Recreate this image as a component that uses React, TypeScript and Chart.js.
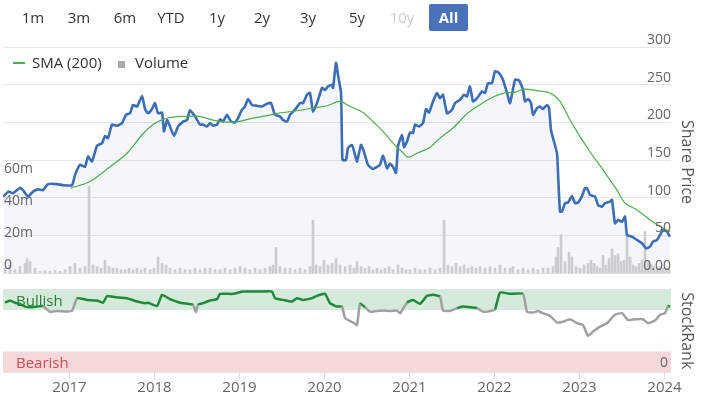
import React, { useEffect, useRef } from 'react';
import { Chart, registerables } from 'chart.js';
Chart.register(...registerables);

// [decimal year, share price]
const priceData: [number, number][] = [
  [2016.224, 101.5], [2016.283, 108], [2016.338, 106], [2016.42, 113], [2016.455, 110], [2016.514, 101.5],
  [2016.573, 108], [2016.632, 111], [2016.691, 110], [2016.75, 118], [2016.856, 118], [2016.926, 116.6],
  [2017.032, 116.6], [2017.067, 130], [2017.126, 143.6], [2017.185, 141], [2017.22, 154.7], [2017.267, 148],
  [2017.326, 169], [2017.385, 172.5], [2017.42, 182], [2017.455, 179], [2017.502, 197], [2017.561, 195.5],
  [2017.62, 199], [2017.667, 210], [2017.714, 212], [2017.75, 223], [2017.797, 221], [2017.856, 235],
  [2017.891, 217.7], [2017.926, 212], [2017.973, 217.7], [2018.008, 225.6], [2018.044, 212], [2018.091, 213],
  [2018.114, 188], [2018.15, 203], [2018.185, 194.5], [2018.232, 182], [2018.279, 194.5], [2018.338, 201],
  [2018.385, 203], [2018.42, 216], [2018.479, 208], [2018.538, 197], [2018.573, 197], [2018.62, 194.5],
  [2018.655, 199], [2018.691, 195.5], [2018.738, 197], [2018.773, 204], [2018.808, 201], [2018.855, 210],
  [2018.903, 201], [2018.95, 200], [2018.985, 205.7], [2019.032, 216.8], [2019.067, 221], [2019.103, 231],
  [2019.15, 223], [2019.208, 222], [2019.267, 221], [2019.326, 224.7], [2019.373, 225.6], [2019.42, 210],
  [2019.479, 208], [2019.514, 203], [2019.561, 201], [2019.597, 210], [2019.656, 216.8], [2019.714, 225.6],
  [2019.75, 225.6], [2019.797, 236.7], [2019.832, 239], [2019.867, 214.5], [2019.914, 225.6], [2019.973, 245.6],
  [2020.009, 243], [2020.044, 247.7], [2020.091, 250], [2020.103, 245.6], [2020.138, 279], [2020.161, 263],
  [2020.197, 239], [2020.214, 150], [2020.256, 150], [2020.279, 166], [2020.326, 170], [2020.361, 157],
  [2020.385, 148], [2020.432, 170], [2020.467, 161], [2020.514, 143.6], [2020.573, 138], [2020.62, 141],
  [2020.655, 143.6], [2020.691, 155.6], [2020.738, 139], [2020.773, 145], [2020.808, 141], [2020.844, 133],
  [2020.867, 168], [2020.914, 183.5], [2020.938, 167], [2020.973, 174.6], [2021.008, 186.6], [2021.044, 185.8],
  [2021.067, 197], [2021.114, 194.5], [2021.161, 199], [2021.197, 217.7], [2021.232, 213], [2021.279, 227.8],
  [2021.326, 239], [2021.361, 232], [2021.397, 236.7], [2021.444, 212], [2021.503, 216.8], [2021.538, 225.6],
  [2021.597, 230], [2021.644, 236.7], [2021.679, 234.4], [2021.714, 247.7], [2021.75, 227.8], [2021.797, 232],
  [2021.856, 241], [2021.891, 239], [2021.926, 252], [2021.973, 252], [2022.008, 267.7], [2022.055, 265.6],
  [2022.102, 256.6], [2022.15, 239], [2022.185, 225.6], [2022.244, 256.6], [2022.291, 255.7], [2022.338, 243.4],
  [2022.361, 227.8], [2022.397, 231], [2022.432, 225.6], [2022.456, 210], [2022.503, 219], [2022.538, 221],
  [2022.573, 217.7], [2022.62, 223], [2022.644, 219], [2022.667, 190], [2022.691, 179], [2022.738, 159],
  [2022.75, 132.6], [2022.773, 81.5], [2022.797, 81.5], [2022.832, 92.7], [2022.867, 93.5], [2022.914, 102],
  [2022.95, 92.7], [2022.985, 93.5], [2023.032, 102], [2023.067, 112.6], [2023.091, 112.6], [2023.126, 103.7],
  [2023.185, 101.5], [2023.22, 90.4], [2023.267, 88], [2023.302, 92.7], [2023.361, 94.8], [2023.385, 97],
  [2023.42, 66], [2023.455, 70.5], [2023.502, 68], [2023.538, 74.9], [2023.561, 50.5], [2023.62, 48.3],
  [2023.679, 43.9], [2023.738, 39.5], [2023.785, 32.8], [2023.832, 35], [2023.867, 41.6], [2023.914, 43.9],
  [2023.95, 50.5], [2023.985, 57], [2024.032, 55], [2024.067, 48.3],
];

// [decimal year, 200-day simple moving average]
const smaData: [number, number][] = [
  [2017.017, 112.6], [2017.244, 121.4], [2017.479, 141], [2017.679, 159], [2017.856, 183.5], [2017.985, 197],
  [2018.103, 204], [2018.22, 207], [2018.42, 208], [2018.538, 208], [2018.691, 203], [2018.855, 200.4],
  [2018.985, 201], [2019.161, 205.7], [2019.326, 208.8], [2019.444, 212], [2019.632, 214.5], [2019.867, 219],
  [2020.032, 222], [2020.185, 227.8], [2020.303, 221], [2020.456, 213], [2020.573, 201], [2020.691, 188],
  [2020.808, 172.5], [2020.914, 161], [2020.985, 153.8], [2021.091, 159], [2021.244, 167], [2021.361, 179],
  [2021.514, 192.4], [2021.679, 211.4], [2021.832, 223.4], [2021.985, 233.6], [2022.126, 239], [2022.244, 240],
  [2022.361, 244], [2022.503, 242], [2022.655, 239], [2022.773, 227.8], [2022.891, 203], [2023.009, 181],
  [2023.126, 161], [2023.279, 137], [2023.444, 110], [2023.538, 92.7], [2023.679, 83.8], [2023.832, 70.5],
  [2023.95, 61.6], [2024.067, 55],
];

// [decimal year, volume in millions]
const volumeData: [number, number][] = [
  [2016.244, 3], [2016.303, 5], [2016.361, 2], [2016.42, 4], [2016.479, 6], [2016.503, 9], [2016.538, 7],
  [2016.597, 3], [2016.656, 1], [2016.714, 1.5], [2016.773, 1], [2016.832, 1.5], [2016.891, 1], [2016.95, 2],
  [2017.009, 4], [2017.067, 6], [2017.126, 3], [2017.185, 4], [2017.232, 54], [2017.279, 5], [2017.326, 4],
  [2017.373, 3], [2017.42, 8], [2017.467, 4], [2017.514, 3], [2017.561, 3], [2017.609, 2], [2017.656, 2],
  [2017.703, 3], [2017.75, 2], [2017.797, 3], [2017.844, 2], [2017.891, 3], [2017.95, 2], [2017.997, 3],
  [2018.044, 10], [2018.091, 6], [2018.138, 5], [2018.185, 3], [2018.244, 2], [2018.303, 3], [2018.361, 2],
  [2018.42, 2], [2018.479, 3], [2018.538, 2], [2018.597, 3], [2018.656, 3], [2018.714, 2], [2018.773, 2],
  [2018.832, 3], [2018.891, 2], [2018.95, 3], [2019.009, 4], [2019.067, 3], [2019.126, 2], [2019.185, 3],
  [2019.244, 2], [2019.303, 3], [2019.361, 4], [2019.397, 5], [2019.432, 16], [2019.479, 4], [2019.538, 3],
  [2019.597, 3], [2019.656, 2], [2019.714, 3], [2019.773, 2], [2019.832, 4], [2019.867, 33], [2019.903, 5],
  [2019.95, 4], [2019.997, 8], [2020.044, 5], [2020.091, 6], [2020.138, 9], [2020.185, 5], [2020.244, 4],
  [2020.303, 5], [2020.35, 3], [2020.385, 7], [2020.432, 4], [2020.479, 3], [2020.526, 4], [2020.573, 2],
  [2020.62, 3], [2020.667, 2], [2020.714, 3], [2020.762, 4], [2020.809, 2], [2020.867, 5], [2020.914, 3],
  [2020.962, 2], [2021.009, 2], [2021.067, 3], [2021.126, 2], [2021.185, 2], [2021.244, 3], [2021.303, 2],
  [2021.361, 3], [2021.409, 33], [2021.456, 5], [2021.503, 4], [2021.55, 6], [2021.597, 4], [2021.644, 5],
  [2021.691, 3], [2021.738, 4], [2021.785, 3], [2021.832, 4], [2021.891, 3], [2021.95, 4], [2022.009, 3],
  [2022.067, 5], [2022.126, 3], [2022.185, 3], [2022.22, 4], [2022.279, 2], [2022.338, 3], [2022.397, 2],
  [2022.456, 3], [2022.514, 2], [2022.573, 3], [2022.632, 3], [2022.691, 4], [2022.726, 10], [2022.75, 16],
  [2022.785, 24], [2022.832, 7], [2022.879, 13], [2022.914, 10], [2022.962, 4], [2023.009, 3], [2023.056, 5],
  [2023.103, 6], [2023.138, 8], [2023.173, 6], [2023.209, 4], [2023.244, 3], [2023.279, 11], [2023.314, 5],
  [2023.35, 9], [2023.385, 15], [2023.42, 11], [2023.456, 12], [2023.491, 7], [2023.526, 8], [2023.562, 23],
  [2023.597, 10], [2023.632, 5], [2023.667, 4], [2023.703, 6], [2023.738, 8], [2023.773, 26], [2023.809, 7],
  [2023.844, 5], [2023.879, 4], [2023.914, 3], [2023.95, 4], [2023.985, 3], [2024.02, 3], [2024.056, 2],
];

// [decimal year, StockRank 0-100]
const rankData: [number, number][] = [
  [2016.244, 84], [2016.303, 86.6], [2016.361, 84], [2016.42, 82.6], [2016.479, 79.3], [2016.538, 78.6],
  [2016.62, 79.3], [2016.691, 80], [2016.773, 73], [2016.856, 74], [2016.926, 73.5], [2017.032, 74],
  [2017.091, 89.5], [2017.209, 87.4], [2017.326, 86.6], [2017.397, 84], [2017.444, 92], [2017.538, 90.7],
  [2017.679, 89.5], [2017.797, 85.4], [2017.891, 83.4], [2017.926, 84], [2018.032, 80], [2018.091, 93.5],
  [2018.185, 88.3], [2018.303, 84], [2018.397, 82.6], [2018.456, 81.4], [2018.491, 72.5], [2018.514, 81.4],
  [2018.573, 83.4], [2018.656, 86.6], [2018.738, 88.3], [2018.773, 94.7], [2018.926, 94.7], [2019.044, 97.5],
  [2019.244, 97.5], [2019.385, 97.5], [2019.42, 89.5], [2019.514, 87.4], [2019.62, 85.4], [2019.679, 89.5],
  [2019.75, 87.4], [2019.856, 89.5], [2019.914, 92.3], [2020.009, 94.7], [2020.067, 83.4], [2020.15, 79.3],
  [2020.209, 79.3], [2020.244, 65.3], [2020.338, 60], [2020.385, 57], [2020.42, 82.6], [2020.479, 78.6],
  [2020.538, 73], [2020.62, 74], [2020.691, 74.5], [2020.773, 74], [2020.856, 74.5], [2020.891, 71.3],
  [2020.973, 84], [2021.044, 87.4], [2021.126, 82.6], [2021.209, 92.3], [2021.279, 93.5], [2021.361, 91.4],
  [2021.397, 74.5], [2021.479, 74], [2021.562, 77.4], [2021.632, 79.3], [2021.715, 78.6], [2021.797, 77.4],
  [2021.868, 73], [2021.95, 74], [2022.009, 76], [2022.067, 96.2], [2022.185, 94.7], [2022.338, 94.7],
  [2022.385, 73], [2022.456, 72], [2022.514, 74], [2022.573, 71.3], [2022.656, 68], [2022.738, 60],
  [2022.809, 61], [2022.891, 64], [2022.973, 59.2], [2023.044, 57], [2023.103, 43.9], [2023.162, 49],
  [2023.244, 55], [2023.326, 59.2], [2023.42, 69.3], [2023.503, 71.3], [2023.573, 63], [2023.656, 64],
  [2023.75, 64], [2023.809, 59.2], [2023.891, 62.4], [2023.95, 69.3], [2024.009, 71.3], [2024.044, 80],
  [2024.067, 78.6],
];

const yearTicks = [2017, 2018, 2019, 2020, 2021, 2022, 2023, 2024];
const priceTicks = [0, 50, 100, 150, 200, 250, 300];
const volumeTicks = [0, 20, 40, 60];
const rangeButtons = ['1m', '3m', '6m', 'YTD', '1y', '2y', '3y', '5y', '10y', 'All'];
const buttonCenters = [33, 79, 125, 171, 217, 262, 308, 357, 402, 448];

const GREEN = '#1f8a3c';
const GRAY = '#a0a0a0';
const FONT = '"Open Sans", sans-serif';

const overlayPlugin = {
  id: 'overlay',
  beforeDatasetsDraw(chart: any) {
    const { ctx, chartArea } = chart;
    const r = chart.scales.yRank;
    const w = chartArea.right - chartArea.left;
    ctx.save();
    const b1 = r.getPixelForValue(100);
    const b2 = r.getPixelForValue(75);
    ctx.fillStyle = '#d5eadb';
    ctx.fillRect(chartArea.left, b1, w, b2 - b1);
    const r1 = r.getPixelForValue(25);
    const r2 = r.getPixelForValue(0);
    ctx.fillStyle = '#f6d7da';
    ctx.fillRect(chartArea.left, r1, w, r2 - r1);
    ctx.font = '15px ' + FONT;
    ctx.textBaseline = 'middle';
    ctx.textAlign = 'left';
    ctx.fillStyle = '#2b7d3c';
    ctx.fillText('Bullish', 16, (b1 + b2) / 2 + 2);
    ctx.fillStyle = '#d24a57';
    ctx.fillText('Bearish', 16, (r1 + r2) / 2 + 2);
    ctx.restore();
  },
  afterDraw(chart: any) {
    const { ctx, chartArea } = chart;
    const x = chart.scales.x;
    const p = chart.scales.yPrice;
    const v = chart.scales.yVol;
    const r = chart.scales.yRank;
    ctx.save();
    ctx.textBaseline = 'middle';
    ctx.font = '14px ' + FONT;
    ctx.fillStyle = '#666';
    ctx.textAlign = 'right';
    priceTicks.forEach((t) => {
      ctx.fillText(t === 0 ? '0.00' : String(t), chartArea.right, p.getPixelForValue(t) - 7);
    });
    ctx.fillText('0', chartArea.right - 3, r.getPixelForValue(0) - 9);
    ctx.textAlign = 'left';
    volumeTicks.forEach((t) => {
      ctx.fillText(t === 0 ? '0' : t + 'm', 4, v.getPixelForValue(t) - 8);
    });
    // x ticks
    ctx.strokeStyle = '#d8d8d8';
    ctx.lineWidth = 1;
    ctx.font = '15px ' + FONT;
    ctx.textAlign = 'center';
    yearTicks.forEach((yr) => {
      const px = Math.round(x.getPixelForValue(yr)) + 0.5;
      ctx.beginPath();
      ctx.moveTo(px, chartArea.bottom);
      ctx.lineTo(px, chartArea.bottom + 7);
      ctx.stroke();
      ctx.fillText(String(yr), px, 388);
    });
    // titles
    ctx.fillStyle = '#555';
    ctx.font = '16px ' + FONT;
    const titles: [string, number, number][] = [
      ['Share Price', 687, (p.getPixelForValue(300) + p.getPixelForValue(0)) / 2 + 2],
      ['StockRank', 687, (r.getPixelForValue(100) + r.getPixelForValue(0)) / 2],
    ];
    titles.forEach(([t, tx, ty]) => {
      ctx.save();
      ctx.translate(tx, ty);
      ctx.rotate(Math.PI / 2);
      ctx.textAlign = 'center';
      ctx.fillText(t, 0, 0);
      ctx.restore();
    });
    ctx.restore();
  },
};

export default function App() {
  const ref = useRef<HTMLCanvasElement>(null);
  useEffect(() => {
    const toPts = (d: [number, number][]) => d.map(([a, b]) => ({ x: a, y: b }));
    const chart = new Chart(ref.current as HTMLCanvasElement, {
      type: 'line',
      data: {
        datasets: [
          {
            label: 'SMA (200)',
            data: toPts(smaData),
            yAxisID: 'yPrice',
            borderColor: '#4cae4c',
            borderWidth: 1.2,
            pointRadius: 0,
            fill: false,
            tension: 0.3,
          },
          {
            label: 'Share Price',
            data: toPts(priceData),
            yAxisID: 'yPrice',
            borderColor: '#3d6db5',
            backgroundColor: 'rgba(70,100,190,0.055)',
            borderWidth: 2.6,
            pointRadius: 0,
            fill: { value: 0 },
            tension: 0.15,
          },
          {
            label: 'StockRank',
            data: toPts(rankData),
            yAxisID: 'yRank',
            borderColor: GRAY,
            borderWidth: 2.5,
            pointRadius: 0,
            fill: false,
            tension: 0.15,
            segment: {
              borderColor: (c: any) => (c.p0.parsed.y >= 75 && c.p1.parsed.y >= 75 ? GREEN : GRAY),
            },
          },
          {
            type: 'bar',
            label: 'Volume',
            data: toPts(volumeData),
            yAxisID: 'yVol',
            backgroundColor: '#cbcbd0',
            barThickness: 2,
          } as any,
        ],
      },
      options: {
        responsive: false,
        devicePixelRatio: 1,
        animation: false,
        layout: { padding: { left: 3, right: 31, top: 47, bottom: 23 } },
        plugins: {
          legend: { display: false },
          tooltip: { enabled: false },
          filler: { drawTime: 'beforeDatasetsDraw' } as any,
        },
        scales: {
          x: {
            type: 'linear',
            min: 2016.22,
            max: 2024.079,
            offset: false,
            display: false,
          },
          yPrice: {
            type: 'linear',
            position: 'right',
            min: -131.4,
            max: 300,
            bounds: 'data',
            afterBuildTicks: (s: any) => {
              s.ticks = priceTicks.map((t) => ({ value: t }));
            },
            grid: { color: '#e6e6e6', drawTicks: false, lineWidth: 1 },
            border: { display: false },
            ticks: { display: false },
          },
          yVol: {
            type: 'linear',
            position: 'left',
            min: -61.9,
            max: 141.25,
            display: false,
          },
          yRank: {
            type: 'linear',
            position: 'right',
            min: 0,
            max: 393.9,
            bounds: 'data',
            afterBuildTicks: (s: any) => {
              s.ticks = [0, 100].map((t) => ({ value: t }));
            },
            grid: { color: '#e3e3e3', drawTicks: false },
            border: { display: false },
            ticks: { display: false },
          },
        } as any,
      },
      plugins: [overlayPlugin as any],
    });
    return () => chart.destroy();
  }, []);

  return (
    <div
      style={{
        position: 'absolute',
        left: 0,
        top: 0,
        width: 702,
        height: 395,
        background: '#fff',
        overflow: 'hidden',
        fontFamily: FONT,
      }}
    >
      <canvas ref={ref} width={702} height={395} style={{ position: 'absolute', left: 0, top: 0 }} />
      {rangeButtons.map((b, i) => {
        const active = b === 'All';
        return (
          <div
            key={b}
            style={{
              position: 'absolute',
              left: active ? 429 : buttonCenters[i] - 22,
              top: 4,
              width: active ? 39 : 44,
              height: 27,
              lineHeight: '27px',
              textAlign: 'center',
              fontSize: 15,
              borderRadius: 2,
              background: active ? '#4a72b9' : 'transparent',
              color: active ? '#fff' : b === '10y' ? '#cccccc' : '#333',
              fontWeight: active ? 700 : 400,
            }}
          >
            {b}
          </div>
        );
      })}
      <div style={{ position: 'absolute', left: 13, top: 62, width: 12, height: 2, background: '#4cae4c' }} />
      <div style={{ position: 'absolute', left: 32, top: 51, fontSize: 15, lineHeight: '22px', color: '#333' }}>
        SMA (200)
      </div>
      <div style={{ position: 'absolute', left: 118, top: 61, width: 7, height: 7, background: '#a9a9ae' }} />
      <div style={{ position: 'absolute', left: 135, top: 51, fontSize: 15, lineHeight: '22px', color: '#333' }}>
        Volume
      </div>
    </div>
  );
}
